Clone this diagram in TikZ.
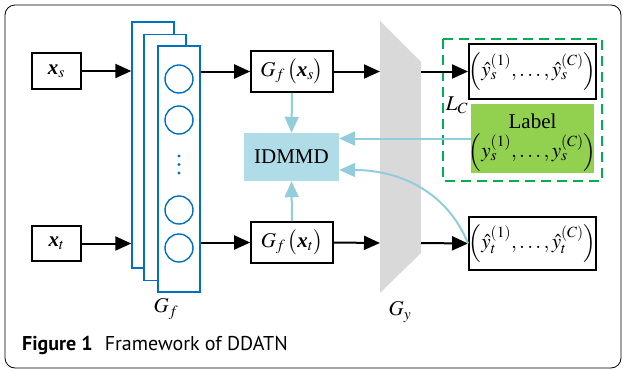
\documentclass[tikz,border=0pt]{standalone}
\usepackage{mathptmx}
\usepackage{fontspec}
\setmainfont{Liberation Serif}
\newfontfamily\capfont{PT Sans}
\usetikzlibrary{arrows.meta}
\definecolor{stackblue}{RGB}{0,112,192}
\definecolor{lblue}{RGB}{146,205,220}
\definecolor{idfill}{RGB}{176,220,232}
\definecolor{lgreen}{RGB}{146,208,80}
\definecolor{dgreen}{RGB}{0,176,80}
\definecolor{gyfill}{RGB}{217,217,217}
\newcommand{\bx}{\mbox{\bfseries\itshape x}}
\begin{document}
\begin{tikzpicture}[x=1pt,y=-1pt,
  font=\fontsize{21}{24}\selectfont,
  box/.style={draw=black, line width=1.6pt, inner sep=0pt, align=center},
  stackbox/.style={draw=stackblue, line width=1.4pt, fill=white, minimum width=42pt, minimum height=246pt, inner sep=0pt},
  neuron/.style={draw=stackblue, line width=1.4pt, circle, minimum size=28pt, inner sep=0pt},
  blk/.style={line width=2pt, -{Triangle[length=16pt,width=14pt]}},
  lb/.style={draw=lblue, line width=2pt, -{Triangle[length=16pt,width=14pt]}},
  lbl/.style={inner sep=0pt}]
\useasboundingbox (0,0) rectangle (624,370);
\draw[line width=0.8pt, rounded corners=10pt] (5,5) rectangle (621,368);

% inputs
\node[box, minimum width=49pt, minimum height=36pt] (xs) at (56.5,71) {$\bx_s$};
\node[box, minimum width=49pt, minimum height=35pt] (xt) at (56.5,243.5) {$\bx_t$};

% stack G_f
\node[stackbox] (R1) at (153,145) {};
\node[stackbox] (R2) at (165,157.5) {};
\node[stackbox] (R3) at (179,169) {};
\node[neuron] (c1) at (179,79) {};
\node[neuron] (c2) at (179,120) {};
\node[neuron] (c3) at (179,210) {};
\node[neuron] (c4) at (179,248) {};
\fill[stackblue] (179,156) circle (1.6pt) (179,164.5) circle (1.6pt) (179,173) circle (1.6pt);
\node[lbl] (gf) at (166,309) {$G_f$};

% features
\node[box, minimum width=82pt, minimum height=41pt] (gfs) at (292,71.5) {$G_f\,\bigl(\bx_s\bigr)$};
\node[box, minimum width=82pt, minimum height=41pt] (gft) at (292,242.5) {$G_f\,\bigl(\bx_t\bigr)$};
\node[fill=idfill, minimum width=95pt, minimum height=48pt, inner sep=0pt] (id) at (291.5,157) {IDMMD};

% G_y
\fill[gyfill] (380,21) -- (421,62) -- (421,253) -- (380,293) -- cycle;
\coordinate (gyls) at (380,71.5);
\coordinate (gyrs) at (421,71.5);
\coordinate (gylt) at (380,243);
\coordinate (gyrt) at (421,243);
\node[lbl] (gy) at (400,312) {$G_y$};

% outputs
\draw[dgreen, line width=2.2pt, dash pattern=on 10pt off 6pt] (443,39) rectangle (602,181);
\node[lbl] (lc) at (457,105) {$L_C$};
\node[box, minimum width=123pt, minimum height=55pt] (ys) at (532.5,71.5) {$\left(\hat{y}_s^{(1)},\ldots,\hat{y}_s^{(C)}\right)$};
\node[fill=lgreen, minimum width=123pt, minimum height=69pt, inner sep=0pt] (lab) at (532.5,138.5) {};
\node[lbl, align=center] (labtxt) at ([yshift=-4pt]lab.center) {Label\\[4pt]$\left(y_s^{(1)},\ldots,y_s^{(C)}\right)$};
\node[box, minimum width=123pt, minimum height=53pt] (yt) at (532.5,243.5) {$\left(\hat{y}_t^{(1)},\ldots,\hat{y}_t^{(C)}\right)$};

% black arrows
\draw[blk] (xs.east) -- (R1.west |- xs.east);
\draw[blk] (xt.east) -- (R1.west |- xt.east);
\draw[blk] (R3.east |- gfs.west) -- (gfs.west);
\draw[blk] (R3.east |- gft.west) -- (gft.west);
\draw[blk] (gfs.east) -- (gyls);
\draw[blk] (gft.east) -- (gylt);
\draw[blk] (gyrs) -- (ys.west);
\draw[blk] (gyrt) -- (yt.west);

% light blue arrows
\draw[lb] (gfs.south) -- (id.north);
\draw[lb] (gft.north) -- (id.south);
\draw[lb] (lab.west) -- (id.east |- lab.west);
\draw[lb] (yt.west) to[out=112,in=0] ([yshift=-13pt]id.east);

% caption
\node[anchor=west, inner sep=0pt, font=\capfont\fontsize{20}{22}\selectfont] (cap) at (22,345) {\textbf{Figure 1}\hspace{12pt}Framework of DDATN};
\end{tikzpicture}
\end{document}
